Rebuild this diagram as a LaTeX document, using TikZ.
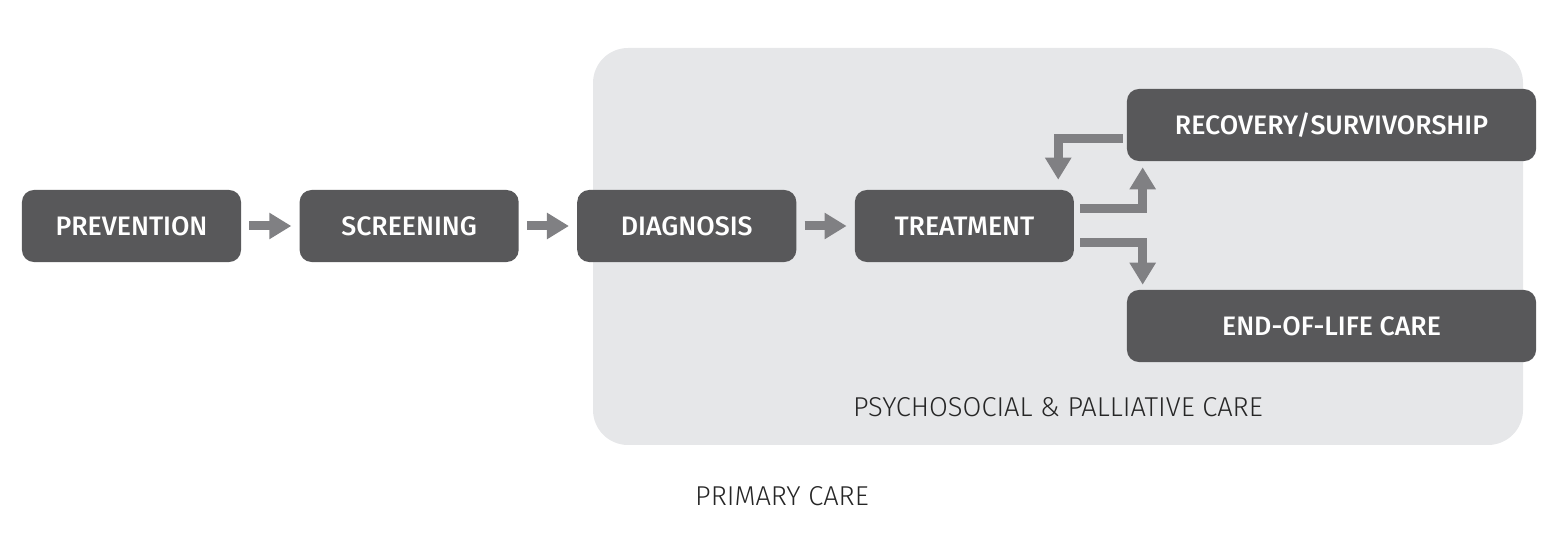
\documentclass[tikz,border=0pt]{standalone}
\usepackage{fontspec}
\setmainfont{Fira Sans}[UprightFont=* Light, BoldFont=* Medium]
\usetikzlibrary{arrows.meta,positioning,calc}

\definecolor{boxgray}{HTML}{58585A}
\definecolor{arrowgray}{HTML}{808083}
\definecolor{carebg}{HTML}{E6E7E9}

\tikzset{
  stage/.style={rectangle, rounded corners=0.3cm, fill=boxgray, text=white,
    font=\fontsize{19}{21}\selectfont\bfseries, minimum width=5.475cm, minimum height=1.8cm, inner sep=0pt},
  wide stage/.style={stage, minimum width=10.225cm},
  flow/.style={arrowgray, line width=0.225cm, line join=miter,
    -{Triangle[width=0.625cm, length=0.55cm]}},
  area label/.style={font=\fontsize{19.4}{21}\selectfont, text=black!85}
}

\begin{document}
\begin{tikzpicture}[x=0.025cm, y=-0.025cm, node distance=1.45cm]
  \useasboundingbox (0,0) rectangle (1564,536);
  \fill[carebg, rounded corners=0.875cm] (593,48) rectangle (1523,445);

  \node[stage]         (prevention) at (131.5,226) {PREVENTION};
  \node[stage]         (screening) [right=of prevention] {SCREENING};
  \node[stage]         (diagnosis) [right=of screening] {DIAGNOSIS};
  \node[stage]         (treatment) [right=of diagnosis] {TREATMENT};
  \node[wide stage]    (recovery) at (1331.5,125) {RECOVERY/SURVIVORSHIP};
  \node[wide stage]    (endoflife) at (1331.5,326) {END-OF-LIFE CARE};

  \node[area label]    (psycho) at (1058,407) {PSYCHOSOCIAL \& PALLIATIVE CARE};
  \node[area label]    (primary) at (782,496) {PRIMARY CARE};

  \draw[flow] ($(prevention.east)+(8,0)$) -- ($(screening.west)+(-8,0)$);
  \draw[flow] ($(screening.east)+(8,0)$) -- ($(diagnosis.west)+(-8,0)$);
  \draw[flow] ($(diagnosis.east)+(8,0)$) -- ($(treatment.west)+(-8,0)$);

  \draw[flow] ($(recovery.west)+(-4,13.5)$) -| ($(treatment.north east)+(-16,-10)$);
  \draw[flow] ($(treatment.east)+(6,-17)$) -| ($(recovery.south west)+(16,6)$);
  \draw[flow] ($(treatment.east)+(6,17)$) -| ($(endoflife.north west)+(16,-5)$);
\end{tikzpicture}
\end{document}
